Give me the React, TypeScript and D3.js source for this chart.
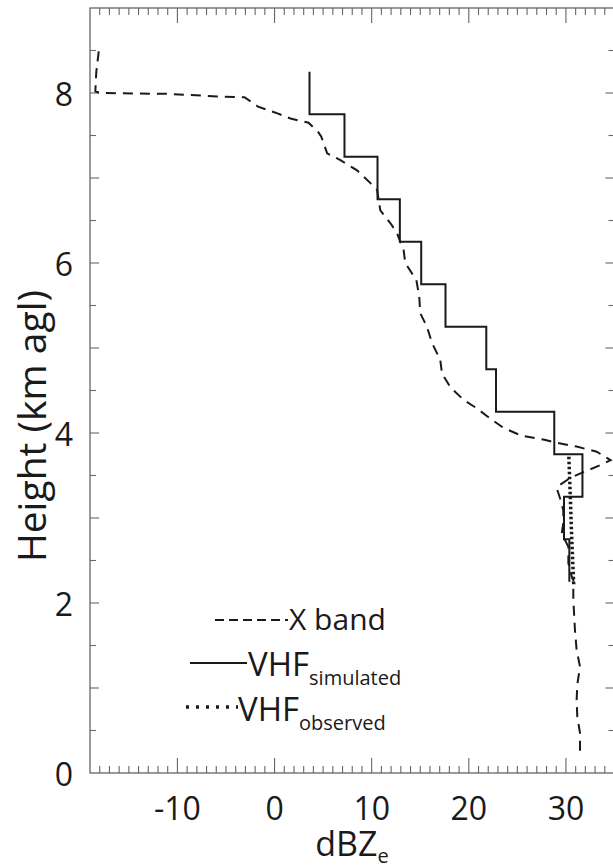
import React from "react";
import * as d3 from "d3";

// ---- Data ----
// X band profile: heights (km agl) and reflectivity (dBZe)
const xbandHeight = [
  8.49, 8.25, 8.02, 8.0, 7.99, 7.96, 7.95, 7.84, 7.76, 7.7, 7.65, 7.54, 7.49, 7.29, 7.21, 7.09,
  6.94, 6.86, 6.62, 6.47, 6.35, 6.15, 6.0, 5.8, 5.6, 5.41, 5.25, 5.06, 4.86, 4.7, 4.54, 4.39,
  4.29, 4.17, 4.06, 3.97, 3.92, 3.89, 3.84, 3.78, 3.68, 3.62, 3.54, 3.47, 3.39, 3.35, 3.23,
  3.09, 2.94, 2.82, 2.66, 2.47, 2.31, 2.27, 2.04, 1.68, 1.45, 1.25, 1.04, 0.86, 0.66, 0.47,
  0.25, 0.18,
];
const xbandDbz = [
  -18.1, -18.35, -18.45, -18.0, -11.0, -5.9, -3.1, -1.7, 0.3, 1.64, 3.5, 4.5, 4.8, 5.42, 6.78, 8.5,
  9.87, 10.56, 10.89, 11.92, 12.61, 13.29, 13.46, 14.6, 14.9, 15.0, 15.69, 16.21, 17.06, 17.24,
  18.09, 19.46, 20.83, 22.2, 23.57, 25.4, 27.8, 28.8, 31.1, 33.17, 34.6, 33.5, 31.8, 30.4, 29.4,
  29.05, 29.4, 29.73, 29.73, 29.57, 30.25, 30.25, 30.6, 30.76, 30.76, 30.93, 31.1, 31.45, 31.17,
  31.1, 31.17, 31.45, 31.45, 31.35,
];

// VHF simulated: 0.5 km layers (centre heights) and values
const vhfSimLayer = [8.0, 7.5, 7.0, 6.5, 6.0, 5.5, 5.0, 4.5, 4.0, 3.5, 3.0, 2.5];
const vhfSimDbz = [3.6, 7.2, 10.6, 12.9, 15.1, 17.6, 21.8, 22.8, 28.8, 31.7, 29.8, 30.35];
const layerHalf = 0.25;

// VHF observed
const vhfObsHeight = [3.72, 3.25, 2.75, 2.22];
const vhfObsDbz = [30.3, 30.45, 30.6, 30.8];

// Axes
const xDomain = [-19, 35];
const yDomain = [0, 9];
const xTickLabels = [-10, 0, 10, 20, 30];
const yTickLabels = [0, 2, 4, 6, 8];

const W = 613;
const H = 867;
const FONT = "'Open Sans', 'DejaVu Sans', sans-serif";

export default function App() {
  const x = d3.scaleLinear().domain(xDomain).range([90, 614.5]);
  const y = d3.scaleLinear().domain(yDomain).range([773, 8]);
  const [x0, x1] = x.range();
  const [yb, yt] = y.range();

  const line = d3
    .line<[number, number]>()
    .x((d) => x(d[0]))
    .y((d) => y(d[1]));

  const xbandPts: [number, number][] = xbandHeight.map((h, i) => [xbandDbz[i], h]);
  const simPts: [number, number][] = [];
  vhfSimLayer.forEach((c, i) => {
    simPts.push([vhfSimDbz[i], c + layerHalf]);
    simPts.push([vhfSimDbz[i], c - layerHalf]);
  });
  const obsPts: [number, number][] = vhfObsHeight.map((h, i) => [vhfObsDbz[i], h]);

  const xMinor = d3.range(xDomain[0] + 1, xDomain[1], 1);
  const yMinor = d3.range(0.5, yDomain[1], 0.5);

  const axisColor = "#666";
  const ink = "#1a1a1a";

  return (
    <svg
      width={W}
      height={H}
      style={{ position: "absolute", left: 0, top: 0, background: "#fff" }}
      fontFamily={FONT}
    >
      <rect x={0} y={0} width={W} height={H} fill="#fff" />
      {/* frame */}
      <rect
        x={x0}
        y={yt}
        width={x1 - x0}
        height={yb - yt}
        fill="none"
        stroke={axisColor}
        strokeWidth={1.3}
      />
      {/* x ticks bottom & top */}
      {xMinor.map((v) => {
        const major = v % 10 === 0;
        const len = major ? 15 : 7;
        return (
          <g key={"xt" + v} stroke={axisColor} strokeWidth={1.1}>
            <line x1={x(v)} x2={x(v)} y1={yb} y2={yb - len} />
            <line x1={x(v)} x2={x(v)} y1={yt} y2={yt + len} />
          </g>
        );
      })}
      {/* y ticks left & right */}
      {yMinor.map((v) => {
        const major = v % 1 === 0;
        const len = major ? 9 : 6;
        return (
          <g key={"yt" + v} stroke={axisColor} strokeWidth={1.1}>
            <line x1={x0} x2={x0 + len} y1={y(v)} y2={y(v)} />
            <line x1={x1} x2={x1 - len} y1={y(v)} y2={y(v)} />
          </g>
        );
      })}
      {/* tick labels */}
      {xTickLabels.map((v) => (
        <text key={"xl" + v} x={x(v)} y={820} textAnchor="middle" fontSize={32} fill={ink}>
          {v}
        </text>
      ))}
      {yTickLabels.map((v) => (
        <text key={"yl" + v} x={73} y={y(v) + 13} textAnchor="end" fontSize={32} fill={ink}>
          {v}
        </text>
      ))}
      {/* axis titles */}
      <text x={352} y={856} textAnchor="middle" fontSize={34} fill={ink}>
        dBZ
        <tspan fontSize={20} dy={7}>
          e
        </tspan>
      </text>
      <text
        transform={`translate(46, 426) rotate(-90)`}
        textAnchor="middle"
        fontSize={39}
        fill={ink}
      >
        Height (km agl)
      </text>

      {/* series */}
      <path
        d={line(xbandPts) || ""}
        fill="none"
        stroke={ink}
        strokeWidth={2}
        strokeDasharray="10 7"
      />
      <path d={line(simPts) || ""} fill="none" stroke={ink} strokeWidth={2} />
      <path
        d={line(obsPts) || ""}
        fill="none"
        stroke={ink}
        strokeWidth={3.5}
        strokeDasharray="2.5 2.5"
      />

      {/* legend */}
      <line x1={215} x2={288} y1={620} y2={620} stroke={ink} strokeWidth={2} strokeDasharray="9 5" />
      <text x={289} y={630} fontSize={30} fill={ink}>
        X band
      </text>
      <line x1={190} x2={247} y1={663} y2={663} stroke={ink} strokeWidth={1.8} />
      <text x={248} y={676} fontSize={33} fill={ink}>
        VHF
        <tspan fontSize={20} dy={9}>
          simulated
        </tspan>
      </text>
      <line
        x1={186}
        x2={238}
        y1={707}
        y2={707}
        stroke={ink}
        strokeWidth={3.5}
        strokeDasharray="3 7"
      />
      <text x={238} y={721} fontSize={33} fill={ink}>
        VHF
        <tspan fontSize={20} dy={9}>
          observed
        </tspan>
      </text>
    </svg>
  );
}
